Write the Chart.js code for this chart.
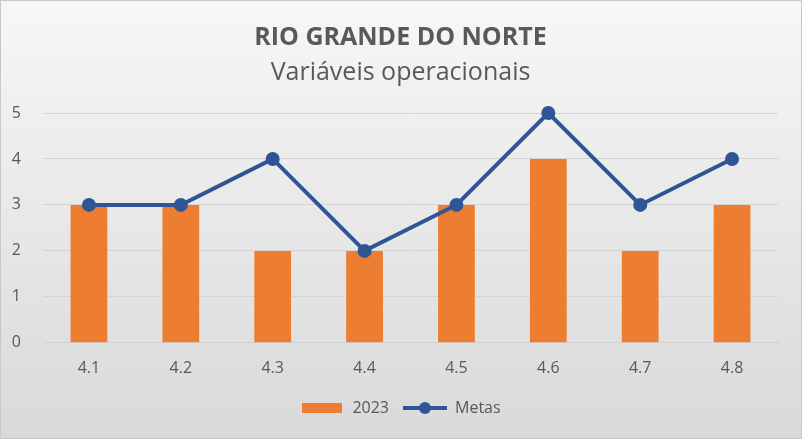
<!DOCTYPE html>
<html>
<head>
<meta charset="utf-8">
<script src="https://cdn.jsdelivr.net/npm/chart.js@4"></script>
<style>
  body { margin: 0; }
  #wrap {
    width: 800px; height: 437px;
    border: 1px solid #c8c8c8;
    background: linear-gradient(to bottom, #f7f7f7 0%, #d9d9d9 100%);
  }
</style>
</head>
<body>
<div id="wrap"><canvas id="chart" width="800" height="437"></canvas></div>
<script>
// Data
const categories = ['4.1', '4.2', '4.3', '4.4', '4.5', '4.6', '4.7', '4.8'];
const values2023 = [3, 3, 2, 2, 3, 4, 2, 3];
const metas = [3, 3, 4, 2, 3, 5, 3, 4];

const orange = '#ed7d31';
const blue = '#2f5597';
const textColor = '#595959';
const font = 'Open Sans, Noto Sans, sans-serif';

// legend icons drawn by hand so the line entry shows line + dot like the original
function barIcon() {
  const c = document.createElement('canvas');
  c.width = 40; c.height = 10;
  const g = c.getContext('2d');
  g.fillStyle = orange;
  g.fillRect(0, 0, 40, 10);
  return c;
}
function lineIcon() {
  const c = document.createElement('canvas');
  c.width = 44; c.height = 14;
  const g = c.getContext('2d');
  g.strokeStyle = blue;
  g.lineWidth = 4;
  g.beginPath(); g.moveTo(0, 7); g.lineTo(44, 7); g.stroke();
  g.fillStyle = blue;
  g.beginPath(); g.arc(22, 7, 6, 0, Math.PI * 2); g.fill();
  return c;
}

const ctx = document.getElementById('chart').getContext('2d');
new Chart(ctx, {
  type: 'bar',
  data: {
    labels: categories,
    datasets: [
      {
        type: 'line',
        label: 'Metas',
        data: metas,
        borderColor: blue,
        backgroundColor: blue,
        borderWidth: 4,
        pointRadius: 7,
        pointHoverRadius: 7,
        pointBackgroundColor: blue,
        pointBorderWidth: 0,
        clip: false,
        order: 1,
        legendIcon: lineIcon()
      },
      {
        label: '2023',
        data: values2023,
        backgroundColor: orange,
        barPercentage: 0.4,
        categoryPercentage: 1,
        order: 2,
        legendIcon: barIcon()
      }
    ]
  },
  options: {
    responsive: false,
    animation: false,
    layout: { padding: { left: 11, right: 12, top: 4, bottom: 12 } },
    plugins: {
      title: {
        display: true,
        text: 'RIO GRANDE DO NORTE',
        color: textColor,
        font: { family: font, size: 25, weight: 'bold' },
        padding: { top: 18, bottom: 5 }
      },
      subtitle: {
        display: true,
        text: 'Variáveis operacionais',
        color: textColor,
        font: { family: font, size: 25 },
        padding: { bottom: 25 }
      },
      legend: {
        position: 'bottom',
        labels: {
          usePointStyle: true,
          pointStyleWidth: 44,
          color: textColor,
          font: { family: font, size: 16 },
          padding: 14,
          generateLabels(chart) {
            return chart.data.datasets.map((ds, i) => ({
              text: ds.label,
              pointStyle: ds.legendIcon,
              fontColor: textColor,
              datasetIndex: i,
              hidden: false,
              lineWidth: 0
            })).reverse();
          }
        }
      },
      tooltip: { enabled: false }
    },
    scales: {
      x: {
        grid: { display: false },
        border: { color: '#d0d0d0' },
        ticks: { color: textColor, font: { family: font, size: 16 }, padding: 8 }
      },
      y: {
        min: 0,
        max: 5,
        afterFit(scale) { scale.width = 31; },
        ticks: { stepSize: 1, color: textColor, font: { family: font, size: 16 }, padding: 22 },
        grid: { color: '#d4d4d4', drawTicks: false },
        border: { display: false }
      },
      // empty right-hand axis, only there to keep the plot's right margin
      yRight: {
        position: 'right',
        min: 0,
        max: 5,
        afterFit(scale) { scale.width = 11; },
        ticks: { display: false },
        grid: { display: false },
        border: { display: false }
      }
    }
  }
});
</script>
</body>
</html>
